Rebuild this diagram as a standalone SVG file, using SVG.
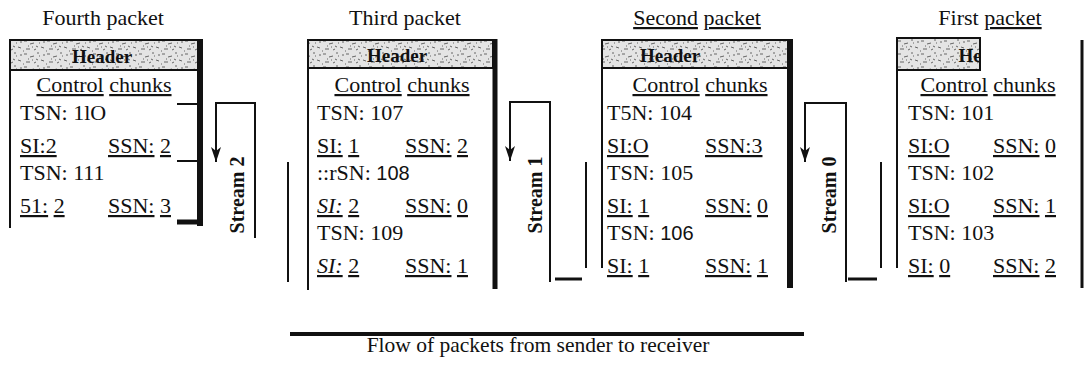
<svg xmlns="http://www.w3.org/2000/svg" width="1085" height="366" viewBox="0 0 1085 366" font-family="'Liberation Serif','Times New Roman',serif">
<style>
text{font-family:"Liberation Serif","Times New Roman",serif;font-size:22px;fill:#111}
.b{font-family:"Liberation Serif","Times New Roman",serif;font-size:22px}
.t{font-family:"Liberation Serif","Times New Roman",serif;font-size:22px}
.f{font-family:"Liberation Serif","Times New Roman",serif;font-size:21.5px}
.c{text-anchor:middle}
.hd{font-family:"Liberation Serif","Times New Roman",serif;font-weight:bold;font-size:19px;text-anchor:middle}
.u{text-decoration:underline}
.i{font-style:italic}
.sans{font-family:"Liberation Sans",Arial,sans-serif;font-size:20px}
.st{font-family:"Liberation Serif","Times New Roman",serif;font-weight:bold;font-size:20px;text-anchor:middle}
.thin{stroke:#111;stroke-width:2;fill:none}
.thick{stroke:#111;stroke-width:6;fill:none}
.hbox{fill:url(#noise);stroke:#111;stroke-width:2}
</style>
<defs>
<pattern id="noise" width="23" height="13" patternUnits="userSpaceOnUse">
<rect width="23" height="13" fill="#e4e4e4"/>
<path d="M1 2h3M7 5l4-1M14 1h2M18 8l3 1M3 10h4M11 11l2-1M9 8h1M16 4h1M20 3h2M5 7h1M13 7l2 1M0 12h1" stroke="#444" stroke-width="0.8"/>
</pattern>
<marker id="ah" markerWidth="16" markerHeight="10" refX="15" refY="5" orient="auto" markerUnits="userSpaceOnUse" viewBox="0 0 16 10">
<path d="M0 0L15 5L0 10L4 5Z" fill="#111"/>
</marker>
<clipPath id="clip1"><rect x="897" y="38" width="83" height="32"/></clipPath>
</defs>
<rect width="1085" height="366" fill="#fff"/>

<g id="packet4">
<text class="t c" x="103" y="25">Fourth packet</text>
<rect class="hbox" x="10" y="40" width="190" height="30"/>
<text class="hd" x="102" y="63">Header</text>
<line class="thin" x1="10" y1="40" x2="10" y2="228"/>
<line class="thick" x1="200" y1="39" x2="200" y2="226"/>
<line class="thin" x1="177" y1="104" x2="200" y2="104"/>
<line class="thin" x1="177" y1="161" x2="200" y2="161"/>
<line stroke="#111" stroke-width="5" x1="177" y1="222" x2="203" y2="222"/>
<text class="b c" x="104" y="92"><tspan class="u">Control</tspan> <tspan class="u">chunks</tspan></text>
<text class="b" x="20" y="120">TSN: 1lO</text>
<text class="b" x="20" y="153"><tspan class="u">SI:2</tspan></text>
<text class="b" x="108" y="153"><tspan class="u">SSN:</tspan> <tspan class="u">2</tspan></text>
<text class="b" x="20" y="180">TSN: 111</text>
<text class="b" x="20" y="213"><tspan class="u">51:</tspan> <tspan class="u">2</tspan></text>
<text class="b" x="108" y="213"><tspan class="u">SSN:</tspan> <tspan class="u">3</tspan></text>
</g>

<g id="packet3">
<text class="t c" x="405" y="25">Third packet</text>
<rect class="hbox" x="308" y="40" width="185" height="28"/>
<text class="hd" x="397" y="62">Header</text>
<line class="thin" x1="308" y1="40" x2="308" y2="290"/>
<line stroke="#111" stroke-width="5" x1="495" y1="39" x2="495" y2="289"/>
<text class="b c" x="402" y="92"><tspan class="u">Control</tspan> <tspan class="u">chunks</tspan></text>
<text class="b" x="317" y="120">TSN:  107</text>
<text class="b" x="317" y="153"><tspan class="u">SI:</tspan> <tspan class="u">1</tspan></text>
<text class="b" x="405" y="153"><tspan class="u">SSN:</tspan> <tspan class="u">2</tspan></text>
<text class="b" x="317" y="180">::rSN: <tspan class="sans">108</tspan></text>
<text class="b" x="317" y="213"><tspan class="u i">SI:</tspan> <tspan class="u">2</tspan></text>
<text class="b" x="405" y="213"><tspan class="u">SSN:</tspan> <tspan class="u">0</tspan></text>
<text class="b" x="317" y="240">TSN: 109</text>
<text class="b" x="317" y="273"><tspan class="u i">SI:</tspan> <tspan class="u">2</tspan></text>
<text class="b" x="405" y="273"><tspan class="u">SSN:</tspan> <tspan class="u">1</tspan></text>
</g>

<g id="packet2">
<text class="t c" x="697" y="25"><tspan class="u">Second</tspan> <tspan class="u">packet</tspan></text>
<rect class="hbox" x="602" y="40" width="186" height="28"/>
<text class="hd" x="670" y="62">Header</text>
<line class="thin" x1="602" y1="40" x2="602" y2="268"/>
<line class="thick" x1="790" y1="39" x2="790" y2="288"/>
<text class="b c" x="700" y="92"><tspan class="u">Control</tspan> <tspan class="u">chunks</tspan></text>
<text class="b" x="607" y="120">T5N:  104</text>
<text class="b" x="607" y="153"><tspan class="u">SI:O</tspan></text>
<text class="b" x="705" y="153"><tspan class="u">SSN:3</tspan></text>
<text class="b" x="607" y="180">TSN:  105</text>
<text class="b" x="607" y="213"><tspan class="u">SI:</tspan> <tspan class="u">1</tspan></text>
<text class="b" x="705" y="213"><tspan class="u">SSN:</tspan> <tspan class="u">0</tspan></text>
<text class="b" x="607" y="240">TSN: <tspan class="sans">106</tspan></text>
<text class="b" x="607" y="273"><tspan class="u">SI:</tspan> <tspan class="u">1</tspan></text>
<text class="b" x="705" y="273"><tspan class="u">SSN:</tspan> <tspan class="u">1</tspan></text>
</g>

<g id="packet1">
<text class="t c" x="990" y="25">First <tspan class="u">packet</tspan></text>
<rect class="hbox" x="897" y="38" width="83" height="32"/>
<text class="hd" x="970" y="62" clip-path="url(#clip1)">He</text>
<line class="thin" x1="897" y1="38" x2="897" y2="268"/>
<line stroke="#111" stroke-width="3" x1="1082" y1="40" x2="1082" y2="288"/>
<text class="b c" x="988" y="92"><tspan class="u">Control</tspan> <tspan class="u">chunks</tspan></text>
<text class="b" x="908" y="120">TSN: 101</text>
<text class="b" x="908" y="153"><tspan class="u">SI:O</tspan></text>
<text class="b" x="993" y="153"><tspan class="u">SSN:</tspan> <tspan class="u">0</tspan></text>
<text class="b" x="908" y="180">TSN: 102</text>
<text class="b" x="908" y="213"><tspan class="u">SI:O</tspan></text>
<text class="b" x="993" y="213"><tspan class="u">SSN:</tspan> <tspan class="u">1</tspan></text>
<text class="b" x="908" y="240">TSN: 103</text>
<text class="b" x="908" y="273"><tspan class="u">SI:</tspan> <tspan class="u">0</tspan></text>
<text class="b" x="993" y="273"><tspan class="u">SSN:</tspan> <tspan class="u">2</tspan></text>
</g>

<g id="connectors">
<path class="thin" d="M255 238V103H216V162" marker-end="url(#ah)"/>
<line class="thin" x1="288" y1="162" x2="288" y2="282"/>
<path class="thin" d="M550 282V102H510V161" marker-end="url(#ah)"/>
<line stroke="#111" stroke-width="3" x1="555" y1="279" x2="582" y2="279"/>
<line class="thin" x1="586" y1="162" x2="586" y2="268"/>
<path class="thin" d="M846 282V103H805V162" marker-end="url(#ah)"/>
<line stroke="#111" stroke-width="3" x1="848" y1="279" x2="877" y2="279"/>
<line class="thin" x1="881" y1="162" x2="881" y2="268"/>
<line stroke="#111" stroke-width="4" x1="290" y1="334" x2="804" y2="334"/>
</g>

<g id="labels">
<text class="st" transform="translate(244 195) rotate(-90)">Stream 2</text>
<text class="st" transform="translate(542 195) rotate(-90)">Stream 1</text>
<text class="st" transform="translate(836 195) rotate(-90)">Stream 0</text>
<text class="f c" x="538" y="352">Flow of packets from sender to receiver</text>
</g>
</svg>
